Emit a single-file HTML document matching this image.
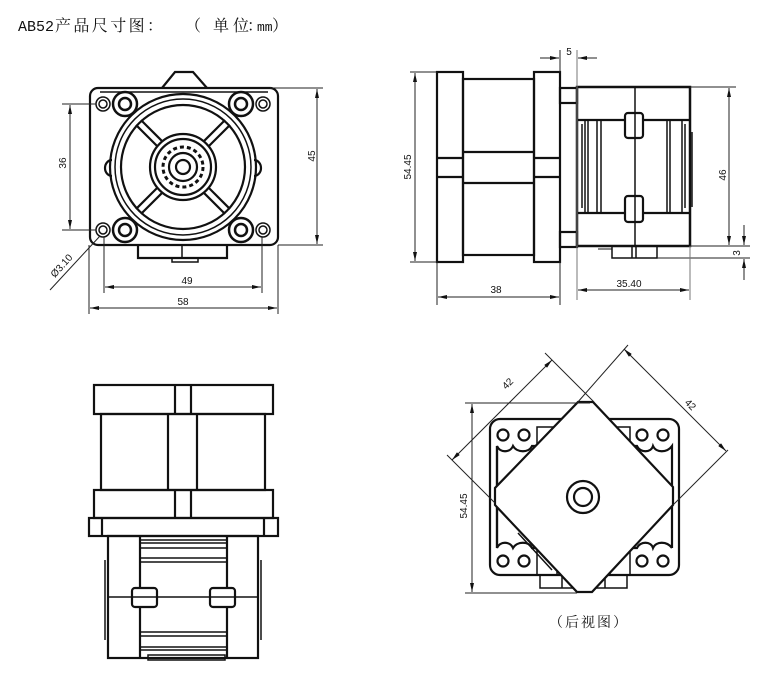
<!DOCTYPE html>
<html><head><meta charset="utf-8"><style>
html,body{margin:0;padding:0;background:#fff;}
svg{display:block;}
.d{font-family:"Liberation Sans",sans-serif;font-size:10px;fill:#111;}
</style></head><body>
<svg width="780" height="680" viewBox="0 0 780 680" xmlns="http://www.w3.org/2000/svg">
<defs>
<marker id="a" viewBox="0 0 9 4" refX="9" refY="2" markerWidth="9" markerHeight="4" orient="auto-start-reverse" markerUnits="userSpaceOnUse"><path d="M0,0L9,2L0,4z" fill="#111"/></marker>
</defs>
<rect width="780" height="680" fill="#fff"/>

<!-- Title -->
<text x="18" y="31" font-family="'Liberation Mono',monospace" font-size="15" fill="#111">AB52</text>
<text x="55" y="31" font-family="'Liberation Serif','Noto Serif CJK SC',serif" font-size="16" letter-spacing="2.4" fill="#111">产品尺寸图：</text>
<text x="185" y="31" font-family="'Noto Serif CJK SC',serif" font-size="16" fill="#111">（</text>
<text x="213" y="31" font-family="'Liberation Serif','Noto Serif CJK SC',serif" font-size="16" fill="#111">单</text>
<text x="233" y="31" font-family="'Liberation Serif','Noto Serif CJK SC',serif" font-size="16" fill="#111">位</text>
<text x="247" y="31" font-family="'Noto Serif CJK SC',serif" font-size="16" fill="#111">：</text>
<text x="257" y="31" font-family="'Liberation Mono',monospace" font-size="13" fill="#111">mm</text>
<text x="272" y="31" font-family="'Noto Serif CJK SC',serif" font-size="16" fill="#111">）</text>

<!-- ============ FRONT VIEW (top-left) ============ -->
<g stroke="#111" fill="none" stroke-width="2.2">
  <path d="M162,88 L175,72 L193,72 L207,88"/>
  <path d="M138,245 V258 H227 V245"/>
  <rect x="172" y="258" width="26" height="4" stroke-width="1.5"/>
  <line x1="182" y1="246" x2="182" y2="258" stroke-width="1.5"/>
  <rect x="90" y="88" width="188" height="157" rx="8" fill="#fff"/>
  <line x1="100" y1="92" x2="268" y2="92" stroke-width="1.5"/>
  <path d="M112,160 A7,8 0 0 0 112,176"/>
  <path d="M254,160 A7,8 0 0 1 254,176"/>
  <circle cx="183" cy="167" r="73"/>
  <circle cx="183" cy="167" r="68" stroke-width="1.5"/>
  <circle cx="183" cy="167" r="62"/>
  <g>
    <g transform="rotate(45 183 167)"><line x1="216" y1="163.5" x2="246" y2="163.5"/><line x1="216" y1="170.5" x2="246" y2="170.5"/></g>
    <g transform="rotate(135 183 167)"><line x1="216" y1="163.5" x2="246" y2="163.5"/><line x1="216" y1="170.5" x2="246" y2="170.5"/></g>
    <g transform="rotate(225 183 167)"><line x1="216" y1="163.5" x2="246" y2="163.5"/><line x1="216" y1="170.5" x2="246" y2="170.5"/></g>
    <g transform="rotate(315 183 167)"><line x1="216" y1="163.5" x2="246" y2="163.5"/><line x1="216" y1="170.5" x2="246" y2="170.5"/></g>
  </g>
  <circle cx="183" cy="167" r="33" fill="#fff"/>
  <circle cx="183" cy="167" r="28"/>
  <circle cx="183" cy="167" r="20" stroke-width="3" stroke-dasharray="4 3"/>
  <circle cx="183" cy="167" r="14"/>
  <circle cx="183" cy="167" r="7"/>
  <!-- bolts -->
  <g fill="#fff">
    <circle cx="103" cy="104" r="7" stroke-width="1.5"/><circle cx="103" cy="104" r="4" stroke-width="1.5"/>
    <circle cx="263" cy="104" r="7" stroke-width="1.5"/><circle cx="263" cy="104" r="4" stroke-width="1.5"/>
    <circle cx="103" cy="230" r="7" stroke-width="1.5"/><circle cx="103" cy="230" r="4" stroke-width="1.5"/>
    <circle cx="263" cy="230" r="7" stroke-width="1.5"/><circle cx="263" cy="230" r="4" stroke-width="1.5"/>
    <circle cx="125" cy="104" r="12" stroke-width="2.5"/><circle cx="125" cy="104" r="6" stroke-width="2.5"/>
    <circle cx="241" cy="104" r="12" stroke-width="2.5"/><circle cx="241" cy="104" r="6" stroke-width="2.5"/>
    <circle cx="125" cy="230" r="12" stroke-width="2.5"/><circle cx="125" cy="230" r="6" stroke-width="2.5"/>
    <circle cx="241" cy="230" r="12" stroke-width="2.5"/><circle cx="241" cy="230" r="6" stroke-width="2.5"/>
  </g>
</g>
<!-- front view dims -->
<g stroke="#222" stroke-width="1" fill="none">
  <line x1="270" y1="88" x2="323" y2="88"/>
  <line x1="278" y1="245" x2="323" y2="245"/>
  <line x1="317" y1="89" x2="317" y2="244" marker-start="url(#a)" marker-end="url(#a)"/>
  <line x1="62" y1="104" x2="96" y2="104"/>
  <line x1="62" y1="230" x2="96" y2="230"/>
  <line x1="70" y1="105" x2="70" y2="229" marker-start="url(#a)" marker-end="url(#a)"/>
  <line x1="104" y1="237" x2="104" y2="293"/>
  <line x1="262" y1="237" x2="262" y2="293"/>
  <line x1="105" y1="287" x2="261" y2="287" marker-start="url(#a)" marker-end="url(#a)"/>
  <line x1="89" y1="245" x2="89" y2="314"/>
  <line x1="278" y1="245" x2="278" y2="314"/>
  <line x1="90" y1="308" x2="277" y2="308" marker-start="url(#a)" marker-end="url(#a)"/>
  <line x1="50" y1="290" x2="100" y2="236"/>
</g>
<text class="d" x="187" y="284" text-anchor="middle">49</text>
<text class="d" x="183" y="305" text-anchor="middle">58</text>
<text class="d" transform="translate(66,163) rotate(-90)" text-anchor="middle">36</text>
<text class="d" transform="translate(315,156) rotate(-90)" text-anchor="middle">45</text>
<text class="d" transform="translate(64,268) rotate(-48)" text-anchor="middle">Ø3.10</text>

<!-- ============ SIDE VIEW (top-right) ============ -->
<g stroke="#111" fill="none" stroke-width="2.2">
  <rect x="437" y="72" width="26" height="190"/>
  <line x1="437" y1="158" x2="463" y2="158"/>
  <line x1="437" y1="177" x2="463" y2="177"/>
  <rect x="463" y="79" width="71" height="176"/>
  <line x1="463" y1="152" x2="534" y2="152"/>
  <line x1="463" y1="183" x2="534" y2="183"/>
  <rect x="534" y="72" width="26" height="190"/>
  <line x1="534" y1="158" x2="560" y2="158"/>
  <line x1="534" y1="177" x2="560" y2="177"/>
  <rect x="560" y="88" width="17" height="15"/>
  <rect x="560" y="232" width="17" height="15"/>
  <!-- pump head -->
  <rect x="612" y="246" width="45" height="12" stroke-width="1.5"/>
  <line x1="632" y1="246" x2="632" y2="258" stroke-width="1.5"/>
  <line x1="636" y1="246" x2="636" y2="258" stroke-width="1.5"/>
  <line x1="598" y1="249" x2="612" y2="249" stroke-width="1"/>
  <rect x="577" y="87" width="113" height="159" stroke-width="2.5"/>
  <line x1="577" y1="120" x2="690" y2="120"/>
  <line x1="577" y1="213" x2="690" y2="213"/>
  <line x1="635" y1="87" x2="635" y2="246" stroke-width="1.5"/>
  <g stroke-width="1.5">
    <line x1="582" y1="124" x2="582" y2="208"/>
    <line x1="585" y1="120" x2="585" y2="213"/>
    <line x1="588" y1="120" x2="588" y2="213"/>
    <line x1="597" y1="120" x2="597" y2="213"/>
    <line x1="601" y1="120" x2="601" y2="213"/>
    <line x1="667" y1="120" x2="667" y2="213"/>
    <line x1="670" y1="120" x2="670" y2="213"/>
    <line x1="682" y1="120" x2="682" y2="213"/>
    <line x1="685" y1="124" x2="685" y2="208"/>
    <line x1="692" y1="132" x2="692" y2="207"/>
  </g>
  <rect x="625" y="113" width="18" height="25" rx="3" fill="#fff"/>
  <rect x="625" y="196" width="18" height="26" rx="3" fill="#fff"/>
  <line x1="635" y1="113" x2="635" y2="138" stroke-width="1.5"/>
  <line x1="635" y1="196" x2="635" y2="222" stroke-width="1.5"/>
</g>
<g stroke="#222" stroke-width="1" fill="none">
  <line x1="410" y1="72" x2="437" y2="72"/>
  <line x1="410" y1="262" x2="437" y2="262"/>
  <line x1="415" y1="73" x2="415" y2="261" marker-start="url(#a)" marker-end="url(#a)"/>
  <line x1="560" y1="50" x2="560" y2="72"/>
  <line x1="577" y1="50" x2="577" y2="300" stroke="#777"/>
  <line x1="540" y1="58" x2="559" y2="58" marker-end="url(#a)"/>
  <line x1="597" y1="58" x2="578" y2="58" marker-end="url(#a)"/>
  <line x1="690" y1="87" x2="736" y2="87"/>
  <line x1="690" y1="246" x2="750" y2="246"/>
  <line x1="657" y1="258" x2="750" y2="258"/>
  <line x1="729" y1="88" x2="729" y2="245" marker-start="url(#a)" marker-end="url(#a)"/>
  <line x1="744" y1="225" x2="744" y2="245" marker-end="url(#a)"/>
  <line x1="744" y1="280" x2="744" y2="259" marker-end="url(#a)"/>
  <line x1="437" y1="262" x2="437" y2="305"/>
  <line x1="560" y1="262" x2="560" y2="305"/>
  <line x1="438" y1="297" x2="559" y2="297" marker-start="url(#a)" marker-end="url(#a)"/>
  <line x1="690" y1="246" x2="690" y2="300" stroke="#777"/>
  <line x1="578" y1="290" x2="689" y2="290" marker-start="url(#a)" marker-end="url(#a)"/>
</g>
<text class="d" transform="translate(411,167) rotate(-90)" text-anchor="middle">54.45</text>
<text class="d" x="569" y="55" text-anchor="middle">5</text>
<text class="d" transform="translate(726,175) rotate(-90)" text-anchor="middle">46</text>
<text class="d" transform="translate(740,253) rotate(-90)" text-anchor="middle">3</text>
<text class="d" x="496" y="293" text-anchor="middle">38</text>
<text class="d" x="629" y="287" text-anchor="middle">35.40</text>

<!-- ============ BOTTOM-LEFT VIEW ============ -->
<g stroke="#111" fill="none" stroke-width="2.2">
  <rect x="94" y="385" width="179" height="29"/>
  <line x1="175" y1="385" x2="175" y2="414"/>
  <line x1="191" y1="385" x2="191" y2="414"/>
  <rect x="101" y="414" width="164" height="76"/>
  <line x1="168" y1="414" x2="168" y2="490"/>
  <line x1="197" y1="414" x2="197" y2="490"/>
  <rect x="94" y="490" width="179" height="28"/>
  <line x1="175" y1="490" x2="175" y2="518"/>
  <line x1="191" y1="490" x2="191" y2="518"/>
  <rect x="89" y="518" width="189" height="18"/>
  <line x1="102" y1="518" x2="102" y2="536"/>
  <line x1="264" y1="518" x2="264" y2="536"/>
  <!-- pump -->
  <rect x="148" y="655" width="77" height="5" stroke-width="1.5"/>
  <rect x="108" y="536" width="150" height="122"/>
  <line x1="140" y1="536" x2="140" y2="658"/>
  <line x1="227" y1="536" x2="227" y2="658"/>
  <line x1="108" y1="597" x2="258" y2="597" stroke-width="1.5"/>
  <g stroke-width="1.5">
    <line x1="140" y1="540" x2="227" y2="540"/>
    <line x1="140" y1="543" x2="227" y2="543"/>
    <line x1="140" y1="548" x2="227" y2="548"/>
    <line x1="140" y1="558" x2="227" y2="558"/>
    <line x1="140" y1="562" x2="227" y2="562"/>
    <line x1="140" y1="632" x2="227" y2="632"/>
    <line x1="140" y1="636" x2="227" y2="636"/>
    <line x1="140" y1="647" x2="227" y2="647"/>
    <line x1="140" y1="650" x2="227" y2="650"/>
    <line x1="105" y1="560" x2="105" y2="640"/>
    <line x1="261" y1="560" x2="261" y2="640"/>
  </g>
  <rect x="132" y="588" width="25" height="19" rx="3" fill="#fff"/>
  <rect x="210" y="588" width="25" height="19" rx="3" fill="#fff"/>
  <line x1="132" y1="597" x2="157" y2="597" stroke-width="1.5"/>
  <line x1="210" y1="597" x2="235" y2="597" stroke-width="1.5"/>
</g>

<!-- ============ BOTTOM-RIGHT VIEW (rear) ============ -->
<g stroke="#111" fill="none" stroke-width="2.2">
  <rect x="540" y="575" width="87" height="13" stroke-width="1.5"/>
  <line x1="562" y1="575" x2="562" y2="588" stroke-width="1.5"/>
  <line x1="605" y1="575" x2="605" y2="588" stroke-width="1.5"/>
  <rect x="490" y="419" width="189" height="156" rx="10" fill="#fff"/>
  <path d="M497,548 V446 C500,453 510,453 513,446 C517,453 529,453 532,446 H545"/>
  <path d="M622,446 H637 C640,453 651,453 653,446 C656,453 667,453 672,446 V548"/>
  <path d="M497,446 V548 C500,541 510,541 513,548 C517,541 529,541 532,548 H545"/>
  <path d="M622,548 H637 C640,541 651,541 653,548 C656,541 667,541 672,548"/>
  <rect x="537" y="427" width="20" height="19" stroke-width="1.5"/>
  <rect x="610" y="427" width="20" height="19" stroke-width="1.5"/>
  <rect x="537" y="548" width="20" height="27" stroke-width="1.5"/>
  <rect x="610" y="548" width="20" height="27" stroke-width="1.5"/>
  <circle cx="503" cy="435" r="5.5"/><circle cx="524" cy="435" r="5.5"/>
  <circle cx="642" cy="435" r="5.5"/><circle cx="663" cy="435" r="5.5"/>
  <circle cx="503" cy="561" r="5.5"/><circle cx="524" cy="561" r="5.5"/>
  <circle cx="642" cy="561" r="5.5"/><circle cx="663" cy="561" r="5.5"/>
  <line x1="518" y1="533" x2="552" y2="570" stroke-width="1.5"/>
  <polygon points="578,402 593,402 673,487 673,505 592,592 577,592 495,505 495,488" fill="#fff"/>
  <circle cx="583" cy="497" r="16"/>
  <circle cx="583" cy="497" r="9"/>
</g>
<g stroke="#222" stroke-width="1" fill="none">
  <line x1="465" y1="403" x2="590" y2="403"/>
  <line x1="465" y1="593" x2="577" y2="593"/>
  <line x1="472" y1="404" x2="472" y2="592" marker-start="url(#a)" marker-end="url(#a)"/>
  <!-- left 42 -->
  <line x1="447" y1="455" x2="495" y2="503"/>
  <line x1="545" y1="353" x2="594" y2="402"/>
  <line x1="452" y1="460" x2="552" y2="360" marker-start="url(#a)" marker-end="url(#a)"/>
  <!-- right 42 -->
  <line x1="628" y1="345" x2="577" y2="403"/>
  <line x1="728" y1="450" x2="673" y2="505"/>
  <line x1="624" y1="349" x2="726" y2="451" marker-start="url(#a)" marker-end="url(#a)"/>
</g>
<text class="d" transform="translate(467,506) rotate(-90)" text-anchor="middle">54.45</text>
<text class="d" transform="translate(510,386) rotate(-45)" text-anchor="middle">42</text>
<text class="d" transform="translate(688,407) rotate(45)" text-anchor="middle">42</text>
<text x="549" y="627" font-family="'Noto Serif CJK SC',serif" font-size="14" letter-spacing="2" fill="#111">（后视图）</text>
</svg>
</body></html>
